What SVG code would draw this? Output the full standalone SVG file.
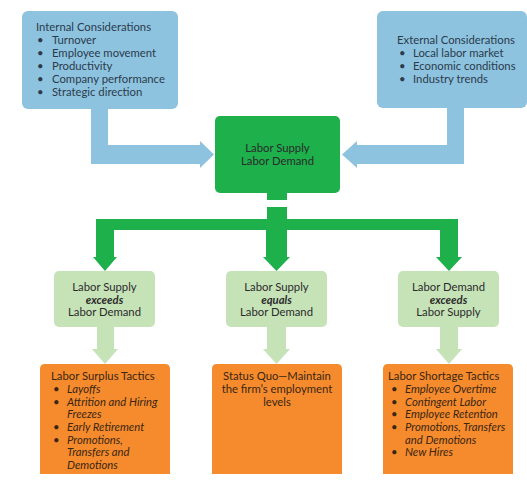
<svg xmlns="http://www.w3.org/2000/svg" width="527" height="491" viewBox="0 0 527 491">
<style>
text{font-family:Lato,"Open Sans","DejaVu Sans",sans-serif;font-size:11.3px;fill:#2b2b2b}
.blue{fill:#8ec3df}
.dg{fill:#1db04b}
.lg{fill:#c6e3b8}
.or{fill:#f68b2d}
.c{text-anchor:middle}
.i{font-style:italic}
.b{font-weight:bold;font-style:italic}
.bt{fill:#2a3b4c}
.ot{fill:#3a2614}
</style>
<rect width="527" height="491" fill="#ffffff"/>
<g id="connectors">
<polygon class="blue" points="91,105 108,105 108,145 200,145 200,141 214,154.5 200,168 200,164 91,164"/>
<polygon class="blue" points="447,105 464,105 464,164 357,164 357,168 342,154.5 357,141 357,145 447,145"/>
<rect class="dg" x="267" y="190" width="20" height="10"/>
<polygon class="dg" points="267,207 287,207 287,219 458,219 458,257 462,257 449,271 436,257 440,257 440,230 287,230 287,257 290,257 276.5,271 263,257 266,257 266,230 114,230 114,257 117,257 105,271 93,257 96,257 96,219 267,219"/>
<polygon class="lg" points="97,325 114,325 114,349 118,349 105,364 92,349 97,349"/>
<polygon class="lg" points="267,325 286,325 286,349 290,349 276.5,364 263,349 267,349"/>
<polygon class="lg" points="440,325 458,325 458,349 462,349 449,364 436,349 440,349"/>
</g>
<g id="internal">
<rect class="blue" x="22" y="11" width="156" height="98" rx="6"/>
<text class="bt" x="36" y="31">Internal Considerations</text>
<text class="bt" x="37" y="44">•</text><text class="bt" x="52" y="44">Turnover</text>
<text class="bt" x="37" y="57">•</text><text class="bt" x="52" y="57">Employee movement</text>
<text class="bt" x="37" y="70">•</text><text class="bt" x="52" y="70">Productivity</text>
<text class="bt" x="37" y="83">•</text><text class="bt" x="52" y="83">Company performance</text>
<text class="bt" x="37" y="96">•</text><text class="bt" x="52" y="96">Strategic direction</text>
</g>
<g id="external">
<rect class="blue" x="377" y="11" width="150" height="97" rx="6"/>
<text class="bt" x="397" y="44">External Considerations</text>
<text class="bt" x="399" y="57">•</text><text class="bt" x="413" y="57">Local labor market</text>
<text class="bt" x="399" y="70">•</text><text class="bt" x="413" y="70">Economic conditions</text>
<text class="bt" x="399" y="83">•</text><text class="bt" x="413" y="83">Industry trends</text>
</g>
<g id="center">
<rect class="dg" x="215" y="116" width="125" height="77" rx="5"/>
<text class="c" x="277.5" y="152">Labor Supply</text>
<text class="c" x="277.5" y="165">Labor Demand</text>
</g>
<g id="surplus-cond">
<rect class="lg" x="54" y="271" width="101" height="56" rx="5"/>
<text class="c" x="104.5" y="291">Labor Supply</text>
<text class="c b" x="104.5" y="303.5">exceeds</text>
<text class="c" x="104.5" y="316">Labor Demand</text>
</g>
<g id="equal-cond">
<rect class="lg" x="226" y="271" width="101" height="56" rx="5"/>
<text class="c" x="276.5" y="291">Labor Supply</text>
<text class="c b" x="276.5" y="303.5">equals</text>
<text class="c" x="276.5" y="316">Labor Demand</text>
</g>
<g id="shortage-cond">
<rect class="lg" x="398" y="271" width="101" height="56" rx="5"/>
<text class="c" x="448.5" y="291">Labor Demand</text>
<text class="c b" x="448.5" y="303.5">exceeds</text>
<text class="c" x="448.5" y="316">Labor Supply</text>
</g>
<g id="surplus-tactics">
<path class="or" d="M40,474 V369 Q40,364 45,364 H165 Q170,364 170,369 V474 Z"/>
<text class="ot" x="51" y="380">Labor Surplus Tactics</text>
<text class="ot" x="53" y="393">•</text><text class="ot i" x="67" y="393">Layoffs</text>
<text class="ot" x="53" y="405.5">•</text><text class="ot i" x="67" y="405.5">Attrition and Hiring</text>
<text class="ot i" x="67" y="418">Freezes</text>
<text class="ot" x="53" y="431">•</text><text class="ot i" x="67" y="431">Early Retirement</text>
<text class="ot" x="53" y="443.5">•</text><text class="ot i" x="67" y="443.5">Promotions,</text>
<text class="ot i" x="67" y="456">Transfers and</text>
<text class="ot i" x="67" y="469">Demotions</text>
</g>
<g id="status-quo">
<path class="or" d="M212,474 V369 Q212,364 217,364 H337 Q342,364 342,369 V474 Z"/>
<text class="ot c" x="277" y="380">Status Quo—Maintain</text>
<text class="ot c" x="277" y="393">the firm’s employment</text>
<text class="ot c" x="277" y="405.5">levels</text>
</g>
<g id="shortage-tactics">
<path class="or" d="M383,474 V369 Q383,364 388,364 H508 Q513,364 513,369 V474 Z"/>
<text class="ot" x="388" y="380">Labor Shortage Tactics</text>
<text class="ot" x="391" y="393">•</text><text class="ot i" x="405" y="393">Employee Overtime</text>
<text class="ot" x="391" y="405.5">•</text><text class="ot i" x="405" y="405.5">Contingent Labor</text>
<text class="ot" x="391" y="418">•</text><text class="ot i" x="405" y="418">Employee Retention</text>
<text class="ot" x="391" y="431">•</text><text class="ot i" x="405" y="431">Promotions, Transfers</text>
<text class="ot i" x="405" y="443.5">and Demotions</text>
<text class="ot" x="391" y="456">•</text><text class="ot i" x="405" y="456">New Hires</text>
</g>
</svg>
